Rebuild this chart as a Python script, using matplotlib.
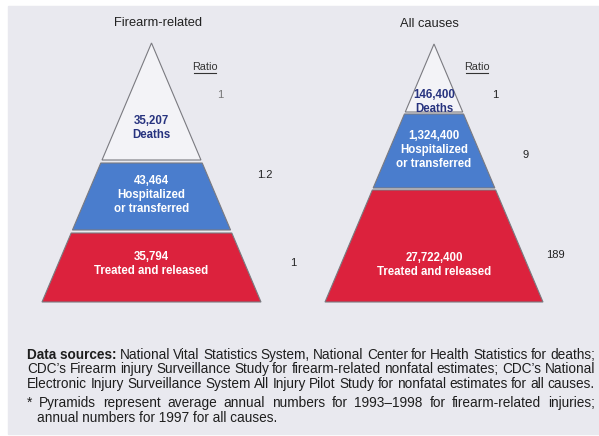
import matplotlib
matplotlib.use("Agg")
import matplotlib.pyplot as plt
from matplotlib.patches import Polygon, Rectangle

plt.rcParams['font.family'] = ['Liberation Sans', 'DejaVu Sans']

# data
titles = ["Firearm-related", "All causes"]
levels = ["Deaths", "Hospitalized\nor transferred", "Treated and released"]
firearm_counts = ["35,207", "43,464", "35,794"]
all_counts = ["146,400", "1,324,400", "27,722,400"]
firearm_ratio = ["1", "1.2", "1"]
all_ratio = ["1", "9", "189"]

footer = [
    "National Vital Statistics System, National Center for Health Statistics for deaths;",
    "CDC\u2019s Firearm injury Surveillance Study for firearm-related nonfatal estimates; CDC\u2019s National",
    "Electronic Injury Surveillance System All Injury Pilot Study for nonfatal estimates for all causes.",
    "* Pyramids represent average annual numbers for 1993\u20131998 for firearm-related injuries;",
    "annual numbers for 1997 for all causes.",
]

bg = "#e9e9ef"
fills = ["#f3f3f7", "#4a7dcd", "#dc223d"]
txt_cols = ["#27337f", "white", "white"]

W, H = 599, 436
fig = plt.figure(figsize=(W / 100, H / 100), dpi=100)
ax = fig.add_axes([0, 0, 1, 1])
ax.set_xlim(0, W)
ax.set_ylim(H, 0)
ax.axis('off')
ax.add_patch(Rectangle((8, 6), W - 8, 428, color=bg, zorder=0))

# layout of the two pyramids (pixel space)
pyr = [
    dict(cx=151.5, top=43, base=302, hw=109.5,
         bands=[(43, 160), (163, 230), (233, 302)],
         label_y=[128, 195, 264], title_x=158, title_y=23,
         ratio_xy=[(220, 95), (265, 175), (293, 263)], ratio_pos=(205, 67),
         counts=firearm_counts, ratios=firearm_ratio),
    dict(cx=434, top=44, base=302, hw=109,
         bands=[(44, 112), (114, 188), (190, 302)],
         label_y=[102, 150, 265], title_x=429, title_y=24,
         ratio_xy=[(495, 95), (526, 155), (555, 255)], ratio_pos=(477, 67),
         counts=all_counts, ratios=all_ratio),
]

for k, (p, title) in enumerate(zip(pyr, titles)):
    cx, top, base, hw = p['cx'], p['top'], p['base'], p['hw']
    def half(y):
        return hw * (y - top) / (base - top)
    for i, (y0, y1) in enumerate(p['bands']):
        pts = [(cx - half(y0), y0), (cx + half(y0), y0),
               (cx + half(y1), y1), (cx - half(y1), y1)]
        ax.add_patch(Polygon(pts, closed=True, facecolor=fills[i],
                             edgecolor="#7a7a80", lw=0.8, zorder=2))
        ax.text(cx, p['label_y'][i], p['counts'][i] + "\n" + levels[i],
                ha='center', va='center', fontsize=8.3, fontweight='bold',
                color=txt_cols[i], linespacing=1.25, zorder=3)
    ax.text(p['title_x'], p['title_y'], title, ha='center', va='center',
            fontsize=9.3, color="#222222")
    rx, ry = p['ratio_pos']
    ax.text(rx, ry, "Ratio", ha='center', va='center', fontsize=7.8,
            color="#333333")
    ax.plot([rx - 11, rx + 11], [ry + 6, ry + 6], color="#333333", lw=0.8)
    for j, ((x, y), r) in enumerate(zip(p['ratio_xy'], p['ratios'])):
        col = "#777777" if (j == 0 and k == 0) else "#222222"
        ax.text(x, y, r, ha='center', va='center', fontsize=8, color=col)

# footer, justified between x0 and x1
fig.canvas.draw()
renderer = fig.canvas.get_renderer()
x0, x1 = 27, 595
line_y = [355, 369, 384, 403, 418]
fs = 9.8


def width_px(s, weight='normal'):
    t = ax.text(0, 0, s, fontsize=fs, fontweight=weight)
    w = t.get_window_extent(renderer).width
    t.remove()
    return w


def justify(words, y, left, right, first_bold=None):
    items = []
    if first_bold:
        items.append((first_bold, 'bold'))
    items += [(w, 'normal') for w in words]
    widths = [width_px(s, wt) for s, wt in items]
    total = sum(widths)
    gap = (right - left - total) / (len(items) - 1)
    x = left
    for (s, wt), w in zip(items, widths):
        ax.text(x, y, s, fontsize=fs, fontweight=wt, va='center', ha='left',
                color="#1e1e1e")
        x += w + gap


justify(footer[0].split(), line_y[0], x0, x1, first_bold="Data sources:")
justify(footer[1].split(), line_y[1], x0, x1)
justify(footer[2].split(), line_y[2], x0, x1)
justify(footer[3].split(), line_y[3], x0, x1)
ax.text(x0 + 10, line_y[4], footer[4], fontsize=fs, va='center', ha='left',
        color="#1e1e1e")

fig.savefig("out.png", dpi=100, facecolor="white")
